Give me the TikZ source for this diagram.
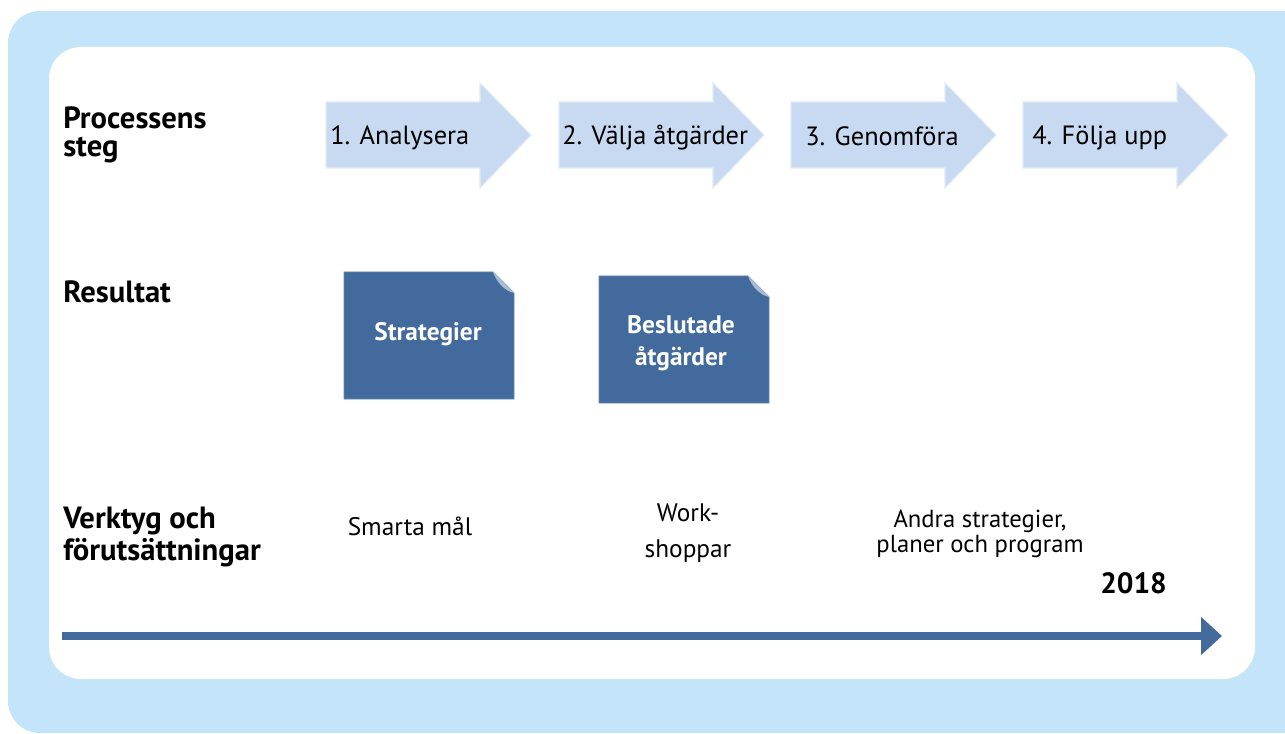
\documentclass[tikz,border=0pt]{standalone}
\usepackage{fontspec}
\setmainfont{PT Sans}
\usetikzlibrary{arrows.meta}
\definecolor{outerblue}{RGB}{196,229,249}
\definecolor{docblue}{RGB}{66,106,156}
\definecolor{arrowblue}{RGB}{199,218,241}
\definecolor{lineblue}{RGB}{66,106,156}
\tikzset{
  stepshape/.style={fill=arrowblue, draw=arrowblue!55!white, line width=0.8pt, line join=miter},
  docshape/.style={fill=docblue, draw=docblue!80!white, line width=0.6pt},
  foldshape/.style={fill=docblue!45!white, draw=none},
  rowlabel/.style={anchor=base west, inner sep=0pt, align=left, font=\fontsize{23}{24}\selectfont\bfseries},
  steptext/.style={anchor=base west, inner sep=0pt, font=\fontsize{19.8}{22}\selectfont},
  doctext/.style={anchor=base, inner sep=0pt, align=center, text=white, font=\fontsize{19}{24}\selectfont\bfseries},
  tooltext/.style={anchor=base, inner sep=0pt, align=center, font=\fontsize{19}{27}\selectfont},
  timeline/.style={draw=lineblue, line width=6pt, -{Triangle[length=15.75pt,width=27.75pt]}}
}
\begin{document}
\begin{tikzpicture}[x=0.75pt,y=-0.75pt]
\useasboundingbox (0,0) rectangle (1285,734);
\clip (0,0) rectangle (1285,734);
% background panels
\fill[outerblue, rounded corners=24pt] (8,11) rectangle (1330,733);
\fill[white, rounded corners=24pt] (49,47) rectangle (1255,679);

% process step arrows
\foreach \x/\n in {326/a1,559/a2,791/a3,1023/a4}{
  \path[stepshape] (\x,102) -- ++(154,0) -- ++(0,-19) -- ++(51,52) -- ++(-51,53) -- ++(0,-20) -- ++(-154,0) -- cycle;
}
\node[steptext] (s1) at (330,145) {1. Analysera};
\node[steptext] (s2) at (562,145) {2. Välja åtgärder};
\node[steptext] (s3) at (805,146) {3. Genomföra};
\node[steptext] (s4) at (1032,145) {4. Följa upp};

% row labels (anchor = baseline of the last line)
\node[rowlabel, font=\fontsize{23}{21.5}\selectfont\bfseries] (l1) at (63,157) {Processens\\steg};
\node[rowlabel] (l2) at (63,303) {Resultat};
\node[rowlabel] (l3) at (63,560) {Verktyg och\\förutsättningar};

% result documents
\path[docshape] (344,272) -- (493,272) -- (514,293) -- (514,399) -- (344,399) -- cycle;
\path[foldshape] (493,272) -- (514,293) .. controls (505,291) and (497,283) .. (493,272) -- cycle;
\path[docshape] (599,276) -- (748,276) -- (769,297) -- (769,403) -- (599,403) -- cycle;
\path[foldshape] (748,276) -- (769,297) .. controls (760,295) and (752,287) .. (748,276) -- cycle;
\node[doctext] (d1) at (428,340) {Strategier};
\node[doctext] (d2) at (681,365) {Beslutade\\åtgärder};

% tools
\node[tooltext] (t1) at (410,535) {Smarta mål};
\node[tooltext] (t2) at (688,557) {Work-\\shoppar};
\node[tooltext, font=\fontsize{18.5}{18.75}\selectfont] (t3) at (980,552) {Andra strategier,\\planer och program};

% timeline
\node[anchor=base west, inner sep=0pt, font=\fontsize{22}{24}\selectfont\bfseries] (yr) at (1100,593) {2018};
\coordinate (tl0) at (62,636);
\coordinate (tl1) at (1222,636);
\draw[timeline] (tl0) -- (tl1);
\end{tikzpicture}
\end{document}
